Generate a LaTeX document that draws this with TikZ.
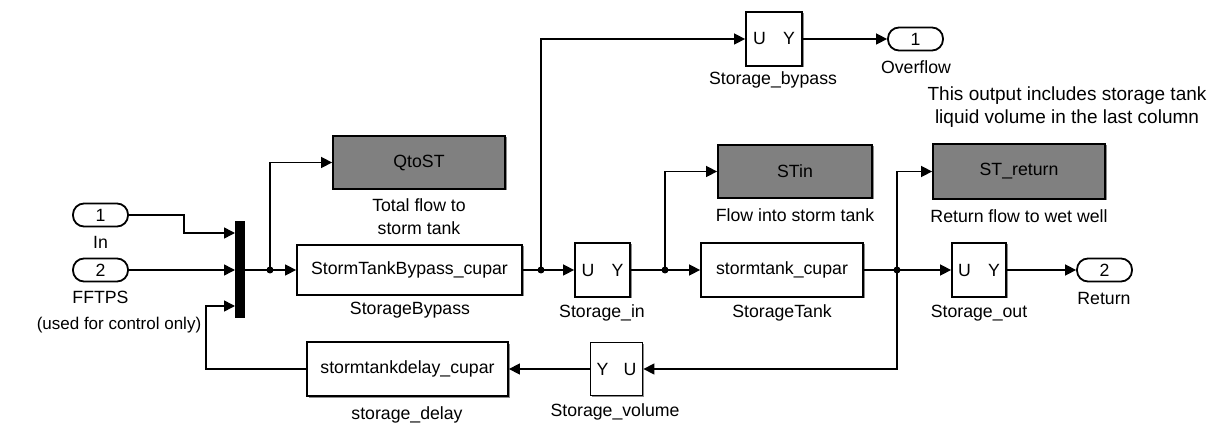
\documentclass[tikz,border=0pt]{standalone}
\usepackage{fontspec}
\setmainfont{Liberation Sans}
\usetikzlibrary{arrows.meta,shadows}

\tikzset{
  wire/.style={line width=1.5pt, -{Triangle[length=11pt,width=11pt]}},
  blk/.style={draw, line width=1.8pt, fill=white, inner sep=0pt,
    general shadow={fill=black!45, shadow xshift=1.5pt, shadow yshift=-1.5pt}},
  grayblk/.style={blk, fill=black!50},
  port/.style={draw, line width=1.8pt, fill=white, rounded corners=11pt,
    minimum width=55pt, minimum height=23pt, inner sep=0pt},
  lbl/.style={align=center, inner sep=0pt},
  dot/.style={circle, fill=black, inner sep=0pt, minimum size=7pt},
}

\begin{document}
\begin{tikzpicture}[x=1pt, y=-1pt, font=\fontsize{17.7}{23}\selectfont]
\useasboundingbox (0,0) rectangle (1220,427);

% ports
\node[port] (in1) at (100.5,215) {1};
\node[port] (in2) at (100.5,270) {2};
\node[port] (out1) at (915.5,39) {1};
\node[port] (out2) at (1104.5,270) {2};

% mux bar and its three inputs
\node[fill=black, minimum width=10pt, minimum height=97pt, inner sep=0pt] (mux) at (240,270) {};
\coordinate (mi1) at (235,233);
\coordinate (mi2) at (235,270);
\coordinate (mi3) at (235,306);

% blocks
\node[grayblk, minimum width=172pt, minimum height=53pt] (qtost) at (419,162.5) {QtoST};
\node[blk, minimum width=225pt, minimum height=50pt] (bypass) at (409.5,270) {StormTankBypass\_cupar};
\node[blk, minimum width=56pt, minimum height=54pt] (sbyp) at (774,39) {\makebox[42pt]{U\hfill Y}};
\node[blk, minimum width=55pt, minimum height=54pt] (sin) at (602.5,270) {\makebox[42pt]{U\hfill Y}};
\node[grayblk, minimum width=154pt, minimum height=53pt] (stin) at (795,171.5) {STin};
\node[blk, minimum width=162pt, minimum height=54pt] (tank) at (782,270) {stormtank\_cupar};
\node[grayblk, minimum width=172pt, minimum height=55pt] (stret) at (1019,171.5) {ST\_return};
\node[blk, minimum width=54pt, minimum height=54pt] (sout) at (979,270) {\makebox[42pt]{U\hfill Y}};
\node[blk, minimum width=52pt, minimum height=53pt] (svol) at (616.5,369) {\makebox[40pt]{Y\hfill U}};
\node[blk, minimum width=201pt, minimum height=54pt] (delay) at (407.5,369) {stormtankdelay\_cupar};

% block names
\node[lbl] at (100.5,242) {In};
\node[lbl] at (100.5,297) {FFTPS};
\node[lbl, font=\fontsize{17}{23}\selectfont] at (119,325) {(used for control only)};
\node[lbl] at (419,216.5) {Total flow to\\storm tank};
\node[lbl] at (410,310) {StorageBypass};
\node[lbl] at (773,80) {Storage\_bypass};
\node[lbl] at (916,67) {Overflow};
\node[lbl] at (602,313) {Storage\_in};
\node[lbl] at (795,215) {Flow into storm tank};
\node[lbl] at (782,313) {StorageTank};
\node[lbl] at (1019,216) {Return flow to wet well};
\node[lbl] at (979,313) {Storage\_out};
\node[lbl] at (1104,298) {Return};
\node[lbl] at (615,412) {Storage\_volume};
\node[lbl] at (407,415) {storage\_delay};
\node[lbl, font=\fontsize{19}{23}\selectfont] at (1067,107.5) {This output includes storage tank\\liquid volume in the last column};

% branch points
\coordinate (j1) at (270,270);
\coordinate (j2) at (541,270);
\coordinate (j3) at (665,270);
\coordinate (j4) at (897,270);

% signal lines
\draw[wire] (in1.east) -- ++(55,0) |- (mi1);
\draw[wire] (in2.east) -- (mi2);
\draw[wire] (mux.east) -- (bypass.west);
\draw[wire] (j1) |- (qtost.west);
\draw[wire] (bypass.east) -- (sin.west);
\draw[wire] (j2) |- (sbyp.west);
\draw[wire] (sbyp.east) -- (out1.west);
\draw[wire] (sin.east) -- (tank.west);
\draw[wire] (j3) |- (stin.west);
\draw[wire] (tank.east) -- (sout.west);
\draw[wire] (j4) |- (stret.west);
\draw[wire] (sout.east) -- (out2.west);
\draw[wire] (j4) |- (svol.east);
\draw[wire] (svol.west) -- (delay.east);
\draw[wire] (delay.west) -- ++(-100,0) |- (mi3);

\foreach \j in {j1,j2,j3,j4} \node[dot] at (\j) {};
\end{tikzpicture}
\end{document}
